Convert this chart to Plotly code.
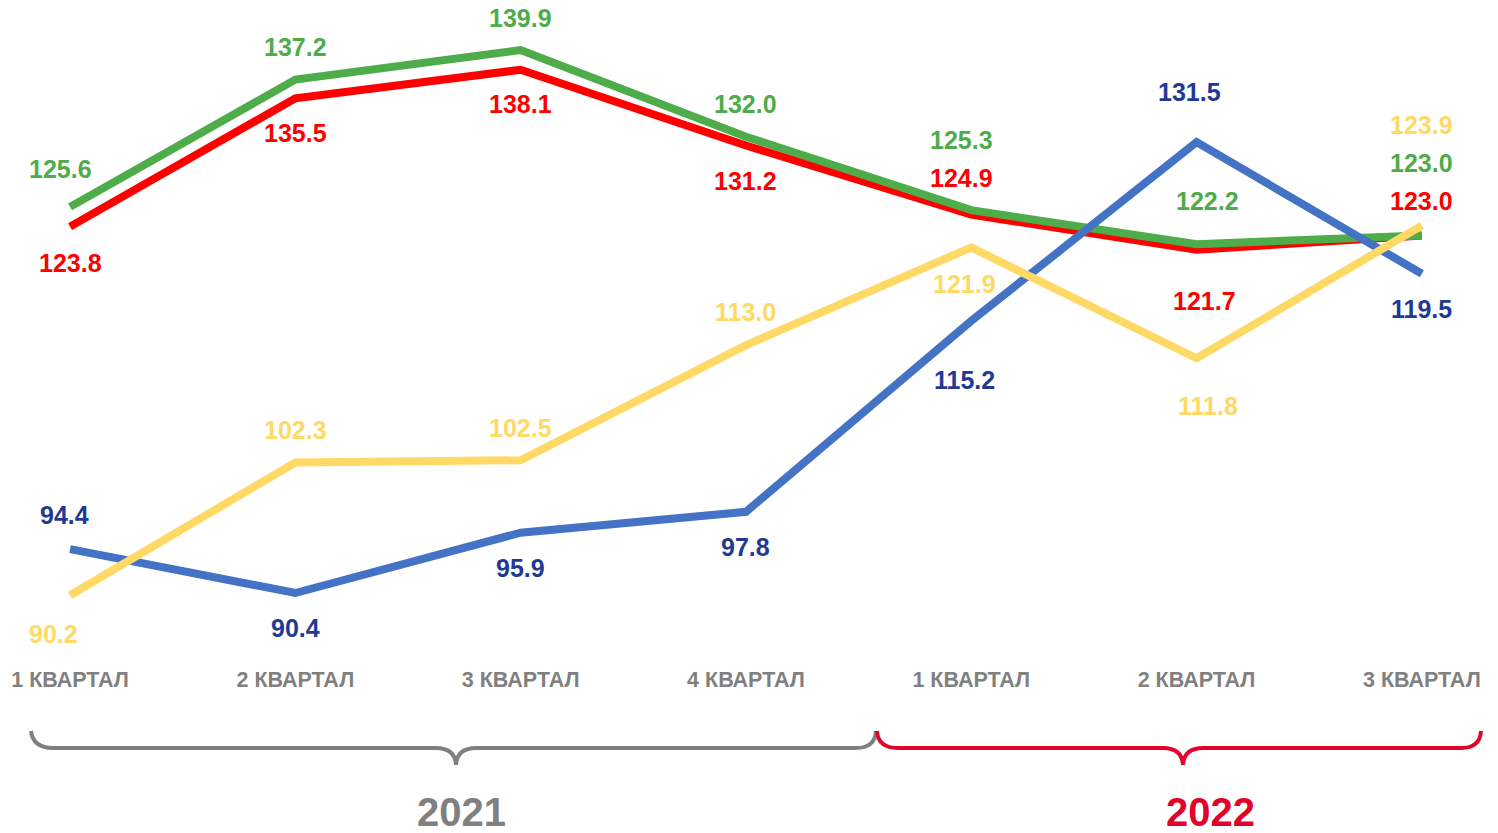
import plotly.graph_objects as go

# ---------------- data ----------------
quarters = ["1 КВАРТАЛ", "2 КВАРТАЛ", "3 КВАРТАЛ", "4 КВАРТАЛ",
            "1 КВАРТАЛ", "2 КВАРТАЛ", "3 КВАРТАЛ"]
years = ["2021", "2022"]
blue_vals = [94.4, 90.4, 95.9, 97.8, 115.2, 131.5, 119.5]
red_vals = [123.8, 135.5, 138.1, 131.2, 124.9, 121.7, 123.0]
green_vals = [125.6, 137.2, 139.9, 132.0, 125.3, 122.2, 123.0]
yellow_vals = [90.2, 102.3, 102.5, 113.0, 121.9, 111.8, 123.9]

# ---------------- styling ----------------
W, H = 1498, 833
FONT = "Liberation Sans, Arial, sans-serif"
GRAY = "#808080"
RED_DARK = "#E2032D"

series = [
    # values, line colour, label colour, label dy (px, +down), label dx
    (red_vals, "#FF0000", "#FF0000", [36, 35, 34, 36, -37, 51, -34], [0, 0, 0, 0, -10, 8, 0]),
    (green_vals, "#4EAC4B", "#4EAC4B", [-38, -33, -32, -33, -70, -43, -72], [-10, 0, 0, 0, -10, 11, 0]),
    (blue_vals, "#4472C4", "#1F3A93", [-34, 35, 35, 35, 59, -50, 35], [-6, 0, 0, 0, -7, -7, 0]),
    (yellow_vals, "#FFD966", "#FFD966", [39, -32, -32, -33, 37, 48, -101], [-17, 0, 0, 0, -7, 11, 0]),
]

xs = list(range(len(quarters)))
fig = go.Figure()
annotations = []
for vals, lc, tc, dys, dxs in series:
    fig.add_trace(go.Scatter(x=xs, y=vals, mode="lines",
                             line=dict(color=lc, width=8),
                             hoverinfo="skip", showlegend=False))
    for i, v in enumerate(vals):
        annotations.append(dict(x=i, y=v, xref="x", yref="y",
                                text=f"<b>{v:.1f}</b>", showarrow=False,
                                xanchor="center", yanchor="middle",
                                yshift=-dys[i], xshift=dxs[i],
                                font=dict(family=FONT, size=25, color=tc)))


def px(x):
    return x / W


def py(y):
    return 1 - y / H


def path(points):
    parts = []
    for cmd, *c in points:
        coords = []
        for j in range(0, len(c), 2):
            coords.append(f"{px(c[j]):.5f},{py(c[j+1]):.5f}")
        parts.append(cmd + " " + " ".join(coords))
    return " ".join(parts)


brace_gray = path([("M", 31, 731), ("Q", 33, 748, 53, 748), ("L", 436, 748),
                   ("Q", 455, 748, 456, 765), ("Q", 457, 748, 476, 748),
                   ("L", 856, 748), ("Q", 875, 748, 876, 731)])
brace_red = path([("M", 877, 731), ("Q", 878, 748, 898, 748), ("L", 1163, 748),
                  ("Q", 1182, 748, 1183, 765), ("Q", 1184, 748, 1203, 748),
                  ("L", 1461, 748), ("Q", 1480, 748, 1481, 731)])

shapes = [
    dict(type="path", xref="paper", yref="paper", path=brace_gray,
         line=dict(color=GRAY, width=4)),
    dict(type="path", xref="paper", yref="paper", path=brace_red,
         line=dict(color=RED_DARK, width=4)),
]

annotations.append(dict(x=px(461), y=py(812), xref="paper", yref="paper",
                        text=f"<b>{years[0]}</b>", showarrow=False,
                        xanchor="center", yanchor="middle",
                        font=dict(family=FONT, size=40, color=GRAY)))
annotations.append(dict(x=px(1210), y=py(812), xref="paper", yref="paper",
                        text=f"<b>{years[1]}</b>", showarrow=False,
                        xanchor="center", yanchor="middle",
                        font=dict(family=FONT, size=40, color=RED_DARK)))

fig.update_layout(
    width=W, height=H,
    margin=dict(l=0, r=0, t=0, b=0),
    paper_bgcolor="white", plot_bgcolor="white",
    xaxis=dict(range=[-0.311, 6.338], showgrid=False, zeroline=False,
               showline=False, tickmode="array", tickvals=xs,
               ticktext=[f"<b>{q}</b>" for q in quarters],
               ticks="", anchor="free", position=py(664),
               tickfont=dict(family=FONT, size=21.5, color=GRAY)),
    yaxis=dict(range=[68.52, 144.46], visible=False, showgrid=False,
               zeroline=False),
    shapes=shapes,
    annotations=annotations,
)

fig.write_html("out.html", config={"displayModeBar": False},
               post_script="document.body.style.margin='0';")
